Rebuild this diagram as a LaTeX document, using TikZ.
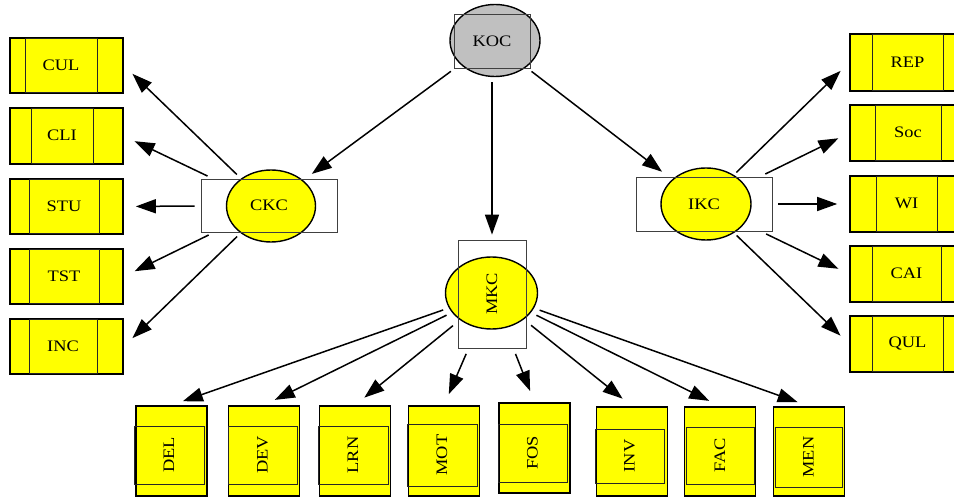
\documentclass[tikz,border=0pt]{standalone}
\usepackage{fontspec}
\setmainfont{Liberation Serif}[FakeStretch=1.15]
\usepackage{graphicx}
\usetikzlibrary{shapes.geometric,arrows.meta}
\definecolor{kocgray}{RGB}{192,192,192}
\definecolor{boxyellow}{RGB}{255,255,0}

\begin{document}
\begin{tikzpicture}[x=1pt,y=-1pt,
  box/.style={draw,line width=1.6pt,fill=boxyellow,rectangle,inner sep=0pt,minimum width=113pt,minimum height=56pt},
  vbox/.style={box,minimum width=71pt,minimum height=90pt},
  inbox/.style={draw=black!85,line width=0.8pt,rectangle,inner sep=0pt,font=\fontsize{16}{16}\selectfont},
  hub/.style={draw,ellipse,line width=1.4pt,fill=boxyellow,minimum width=90pt,minimum height=72pt},
  lblbox/.style={draw=black!75,line width=0.7pt,rectangle,inner sep=0pt,font=\fontsize{16}{16}\selectfont},
  arr/.style={line width=1.5pt,-{Triangle[length=20pt,width=14pt]},shorten <=6pt,shorten >=12pt}]
\useasboundingbox (0,0) rectangle (954,497);
\clip (0,0) rectangle (954,497);

% left group
\node [box,minimum height=55pt] (cul) at(66.5,65.5){};
\node [inbox,minimum width=72pt,minimum height=54pt] (culin) at(61,65){CUL};
\node [box] (cli) at(66.5,136){};
\node [inbox,minimum width=62pt,minimum height=55pt] (cliin) at(62,135.5){CLI};
\node [box,minimum height=55pt] (stu) at(66.5,206.5){};
\node [inbox,minimum width=70pt,minimum height=54pt] (stuin) at(64,206){STU};
\node [box,minimum height=55pt] (tst) at(66.5,276.5){};
\node [inbox,minimum width=70pt,minimum height=54pt] (tstin) at(64,276){TST};
\node [box,minimum height=55pt] (inc) at(66.5,346.5){};
\node [inbox,minimum width=68pt,minimum height=54pt] (incin) at(63,346){INC};

% right group
\node [box,minimum height=57pt] (rep) at(906.5,62.5){};
\node [inbox,minimum width=71pt,minimum height=56pt] (repin) at(907.5,62){REP};
\node [box] (soc) at(906.5,133){};
\node [inbox,minimum width=66pt,minimum height=55pt] (socin) at(908,132.5){Soc};
\node [box] (wi) at(906.5,204){};
\node [inbox,minimum width=61pt,minimum height=55pt] (wiin) at(906.5,203.5){WI};
\node [box] (cai) at(906.5,274){};
\node [inbox,minimum width=69pt,minimum height=55pt] (caiin) at(906.5,273.5){CAI};
\node [box] (qul) at(906.5,344){};
\node [inbox,minimum width=71pt,minimum height=55pt] (qulin) at(907.5,343.5){QUL};

% bottom group
\node [vbox] (del) at(171.5,451){};
\node [inbox,minimum width=70pt,minimum height=58pt] (delin) at(169,455){\rotatebox{90}{DEL}};
\node [vbox] (dev) at(264,451){};
\node [inbox,minimum width=69pt,minimum height=58pt] (devin) at(262.5,455){\rotatebox{90}{DEV}};
\node [vbox] (lrn) at(355,451){};
\node [inbox,minimum width=70pt,minimum height=58pt] (lrnin) at(353,455){\rotatebox{90}{LRN}};
\node [vbox] (mot) at(444,451){};
\node [inbox,minimum width=70pt,minimum height=62pt] (motin) at(442,455){\rotatebox{90}{MOT}};
\node [vbox] (fos) at(534.5,448){};
\node [inbox,minimum width=69pt,minimum height=58pt] (fosin) at(532.5,453){\rotatebox{90}{FOS}};
\node [vbox,minimum height=89pt] (inv) at(632,451.5){};
\node [inbox,minimum width=69pt,minimum height=54pt] (invin) at(629.5,456){\rotatebox{90}{INV}};
\node [vbox,minimum height=89pt] (fac) at(720,451.5){};
\node [inbox,minimum width=68pt,minimum height=57pt] (facin) at(720,455.5){\rotatebox{90}{FAC}};
\node [vbox,minimum height=89pt] (men) at(809,451.5){};
\node [inbox,minimum width=67pt,minimum height=60pt] (menin) at(808.5,457){\rotatebox{90}{MEN}};

% hubs
\node [hub,fill=kocgray] (koce) at(495,40.5){};
\node [lblbox,minimum width=76pt,minimum height=54pt] (koc) at(492,41){KOC};
\node [hub,minimum width=89pt] (ckce) at(271,206){};
\node [lblbox,minimum width=136pt,minimum height=53pt] (ckc) at(269,205.5){CKC};
\node [hub] (ikce) at(706,204){};
\node [lblbox,minimum width=136pt,minimum height=54pt] (ikc) at(704,204){IKC};
\node [hub,minimum width=92pt] (mkce) at(491.5,293){};
\node [lblbox,minimum width=68pt,minimum height=108pt] (mkc) at(492,294){\rotatebox{90}{MKC}};

% top level
\draw [arr,shorten <=5pt,shorten >=8pt] (koc) -- (ckc);
\draw [arr,shorten <=14pt,shorten >=5pt] (koc) -- (mkc);
\draw [arr,shorten <=5pt,shorten >=8pt] (koc) -- (ikc);

\draw [arr] (ckc) -- (cul.east);
\draw [arr] (ckc) -- (cli.east);
\draw [arr] (ckc) -- (stu.east);
\draw [arr] (ckc) -- (tst.east);
\draw [arr] (ckc) -- (inc.east);

\draw [arr] (ikc) -- (rep.west);
\draw [arr] (ikc) -- (soc.west);
\draw [arr] (ikc) -- (wi.west);
\draw [arr] (ikc) -- (cai.west);
\draw [arr] (ikc) -- (qul.west);

\draw [arr] (mkce) -- (del.north);
\draw [arr] (mkce) -- (dev.north);
\draw [arr] (mkc) -- (lrn.north);
\draw [arr] (mkc) -- (mot.north);
\draw [arr] (mkc) -- (fos.north);
\draw [arr] (mkc) -- (inv.north);
\draw [arr] (mkce) -- (fac.north);
\draw [arr] (mkce) -- (men.north);

\end{tikzpicture}
\end{document}
